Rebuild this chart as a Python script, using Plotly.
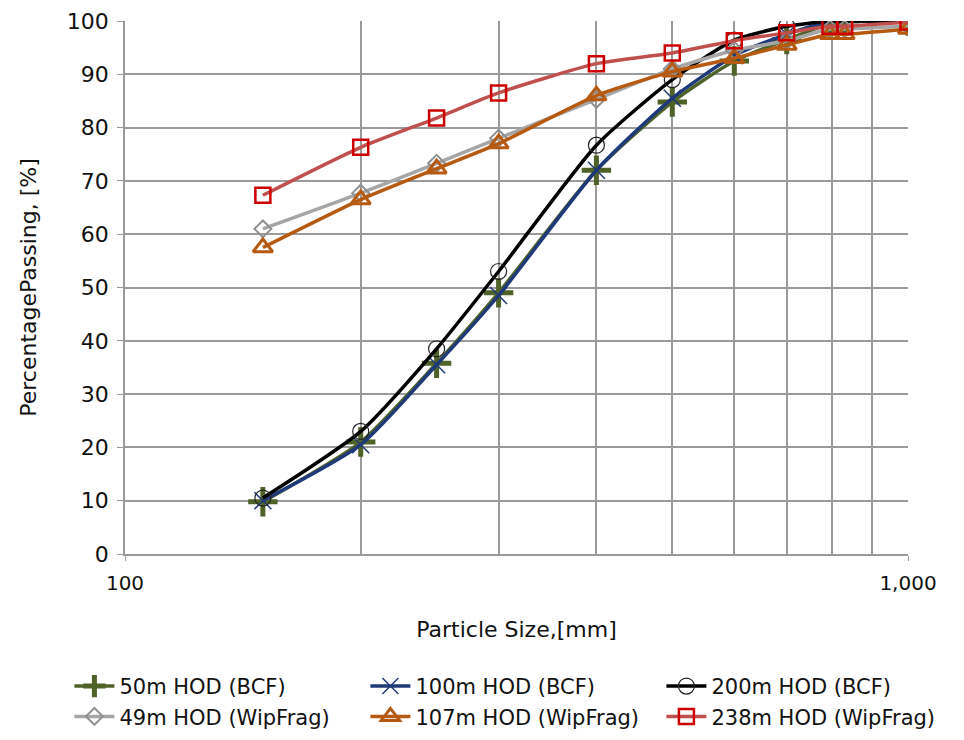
import plotly.graph_objects as go

sizes = [150, 200, 250, 300, 400, 500, 600, 700, 795, 830, 1000]

names = ["50m HOD (BCF)", "100m HOD (BCF)", "200m HOD (BCF)",
         "49m HOD (WipFrag)", "107m HOD (WipFrag)", "238m HOD (WipFrag)"]

hod50_bcf = [9.8, 21.0, 35.8, 49.0, 72.0, 84.8, 92.5, 96.5, 99.5, 100, 100]
hod100_bcf = [10.0, 20.5, 35.5, 48.5, 72.0, 85.5, 93.5, 97.5, 100, 100, 100]
hod200_bcf = [10.5, 23.0, 38.5, 53.0, 76.7, 89.0, 96.4, 99.0, 100, 100, 100]
hod49_wip = [61.0, 67.7, 73.3, 78.0, 85.3, 91.0, 94.5, 96.3, 98.5, 98.5, 99.0]
hod107_wip = [57.5, 66.5, 72.3, 77.0, 86.0, 90.5, 93.0, 95.5, 97.5, 97.5, 98.5]
hod238_wip = [67.3, 76.3, 81.8, 86.5, 92.0, 94.0, 96.3, 97.8, 99.0, 99.0, 99.8]

x_tickvals = [100, 1000]
x_ticktext = ["100", "1,000"]
x_minor = [200, 300, 400, 500, 600, 700, 800, 900]

series = [hod50_bcf, hod100_bcf, hod200_bcf, hod49_wip, hod107_wip, hod238_wip]
line_colors = ["#4F6228", "#1F3A7A", "#000000", "#A6A6A6", "#B65A12", "#C0504D"]
marker_defs = [
    dict(symbol="cross-thin", size=21, line=dict(color="#4F6228", width=5)),
    dict(symbol="x-thin", size=17, line=dict(color="#1F3A7A", width=1.5)),
    dict(symbol="circle-open", size=16, color="#222222", line=dict(width=1.2)),
    dict(symbol="diamond-open", size=13, color="#909090", line=dict(width=2)),
    dict(symbol="triangle-up-open", size=17, color="#B65A12", line=dict(width=3)),
    dict(symbol="square-open", size=15, color="#CC0000", line=dict(width=2.5)),
]

fig = go.Figure()
for name, ys, lc, mk in zip(names, series, line_colors, marker_defs):
    fig.add_trace(go.Scatter(
        x=sizes, y=ys, name=name, mode="lines+markers",
        line=dict(color=lc, width=3.5, shape="spline", smoothing=0.6),
        marker=mk,
    ))

font_family = "DejaVu Sans, Liberation Sans, Arial, sans-serif"
grid_c = "#9a9a9a"

fig.update_layout(
    width=964, height=740,
    margin=dict(l=125, r=56, t=21, b=186, autoexpand=False),
    paper_bgcolor="white", plot_bgcolor="white",
    font=dict(family=font_family, size=21, color="#111111"),
    showlegend=True,
    legend=dict(orientation="h", x=-0.071, y=-0.210, xanchor="left", yanchor="top",
                entrywidth=241, entrywidthmode="pixels",
                font=dict(size=21, family=font_family), itemwidth=40,
                tracegroupgap=0),
    xaxis=dict(type="log", range=[2, 3], tickvals=x_tickvals, ticktext=x_ticktext,
               showgrid=True, gridcolor=grid_c, gridwidth=1.5,
               minor=dict(tickvals=x_minor, showgrid=True, gridcolor=grid_c, gridwidth=1.5,
                          ticks=""),
               ticks="outside", ticklen=5, tickcolor=grid_c,
               showline=True, linecolor=grid_c, linewidth=1.5,
               tickfont=dict(size=20), ticklabelstandoff=5,
               title=dict(text="Particle Size,[mm]", font=dict(size=22), standoff=28),
               zeroline=False),
    yaxis=dict(range=[0, 100], dtick=10,
               showgrid=True, gridcolor=grid_c, gridwidth=1.5,
               ticks="outside", ticklen=6, tickcolor=grid_c,
               showline=True, linecolor=grid_c, linewidth=1.5,
               tickfont=dict(size=22), ticklabelstandoff=4,
               title=dict(text="PercentagePassing, [%]", font=dict(size=22), standoff=24),
               zeroline=False),
)

fig.write_html("out.html")
